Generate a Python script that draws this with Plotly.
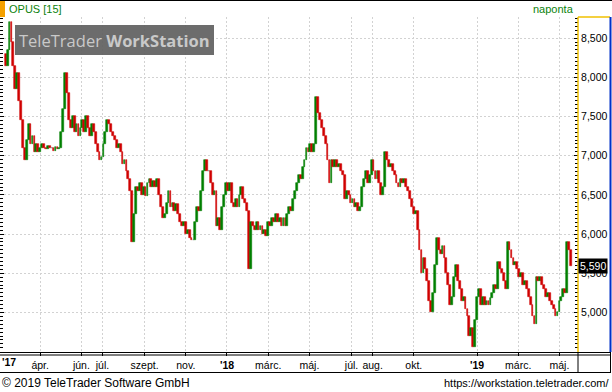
import numpy as np
import pandas as pd
import plotly.graph_objects as go

# ---------------- data ----------------
start_date = "2017-02-10"
bar_step = 2            # trading days per bar
first_open = 8300

close = [
    8150, 8350, 8700, 8450, 8150, 7850, 8050, 7700, 7450, 7100,
    6950, 7200, 7400, 7150, 7250, 7050, 7150, 7050, 7100, 7150,
    7100, 7080, 7120, 7100, 7100, 7060, 7110, 7090, 7100, 7300,
    7600, 8050, 7800, 7450, 7350, 7500, 7300, 7400, 7250, 7350,
    7450, 7300, 7500, 7350, 7250, 7400, 7300, 7150, 7050, 6950,
    6980, 7150, 7300, 7450, 7400, 7300, 7250, 7200, 7100, 7150,
    7050, 6900, 6950, 6800, 6700, 6550, 5900, 6250, 6600, 6550,
    6650, 6500, 6600, 6480, 6650, 6700, 6600, 6680, 6600, 6700,
    6500, 6350, 6200, 6250, 6400, 6550, 6350, 6400, 6300, 6380,
    6250, 6150, 6100, 6150, 6000, 6050, 5950, 5920, 5920, 6150,
    6350, 6300, 6550, 6800, 6950, 6800, 6800, 6650, 6500, 6550,
    6100, 6200, 6050, 6350, 6500, 6650, 6550, 6650, 6400, 6350,
    6450, 6350, 6500, 6600, 6450, 6400, 6300, 5550, 6150, 6100,
    6050, 6150, 6050, 6100, 6000, 6050, 5980, 6150, 6100, 6200,
    6150, 6250, 6150, 6200, 6100, 6200, 6100, 6250, 6350, 6300,
    6450, 6550, 6650, 6750, 6700, 6850, 6950, 7100, 7050, 7150,
    7050, 7150, 7750, 7550, 7450, 7350, 7250, 7150, 6950, 6650,
    6950, 6850, 6950, 6850, 6900, 6800, 6750, 6450, 6550, 6500,
    6400, 6450, 6350, 6400, 6300, 6350, 6600, 6700, 6800, 6650,
    6750, 6950, 6800, 6700, 6800, 6650, 6500, 6600, 7050, 6950,
    6850, 6900, 6800, 6750, 6650, 6600, 6700, 6650, 6700, 6600,
    6550, 6450, 6350, 6250, 6300, 6050, 5800, 5500, 5700, 5550,
    5400, 5150, 5000, 5250, 5600, 5950, 5800, 5750, 5850, 5700,
    5500, 5350, 5100, 5200, 5450, 5600, 5400, 5300, 5150, 5200,
    5050, 4950, 4700, 4800, 4560, 4900, 5200, 5300, 5100, 5200,
    5100, 5150, 5100, 5180, 5250, 5350, 5300, 5650, 5550, 5500,
    5400, 5300, 5900, 5800, 5700, 5600, 5650, 5550, 5450, 5500,
    5350, 5400, 5300, 5200, 5100, 4950, 4850, 5450, 5400, 5450,
    5350, 5300, 5200, 5250, 5150, 5100, 5050, 4950, 5000, 5150,
    5200, 5300, 5250, 5900, 5800, 5590,
]

tick_months = ["2017-04", "2017-06", "2017-07", "2017-09", "2017-11",
               "2018-01", "2018-03", "2018-05", "2018-07", "2018-08", "2018-10",
               "2019-01", "2019-03", "2019-05"]
tick_labels = ["ápr.", "jún.", "júl.", "szept.", "nov.",
               "<b>'18</b>", "márc.", "máj.", "júl.", "aug.", "okt.",
               "<b>'19</b>", "márc.", "máj."]
y_ticks = [5000, 5500, 6000, 6500, 7000, 7500, 8000, 8500]
y_half_lines = [4750, 5250, 5750, 6250, 6750, 7250, 7750, 8250, 8750]

# ---------------- derived ----------------
n = len(close)
dates = pd.bdate_range(start_date, periods=n * bar_step)
xpos = np.arange(n) * bar_step
opens = [first_open] + close[:-1]
base = [min(o, c) for o, c in zip(opens, close)]
height = [abs(c - o) for o, c in zip(opens, close)]
colors = ["#008000" if c > o else ("#d00000" if c < o else "#808080")
          for o, c in zip(opens, close)]
tickvals = [int(dates.searchsorted(pd.Timestamp(m + "-01"))) for m in tick_months]

FONT = "Liberation Sans, Arial, sans-serif"

fig = go.Figure()
fig.add_trace(go.Bar(
    x=xpos, y=height, base=base,
    marker=dict(color=colors, line=dict(color=colors, width=0.6)),
    width=1.85, showlegend=False, hoverinfo="skip",
))

y_range = [4496, 8769]
x_range = [-5.95, 597.4]

fig.update_layout(
    width=612, height=392,
    margin=dict(l=0, r=34, t=17, b=40),
    paper_bgcolor="white", plot_bgcolor="white",
    bargap=0,
    font=dict(family=FONT, size=11, color="black"),
    xaxis=dict(
        range=x_range, tickmode="array", tickvals=tickvals, ticktext=tick_labels,
        showgrid=True, gridcolor="#d2d2d2", griddash="2px,2px", gridwidth=1,
        ticks="outside", ticklen=3, tickcolor="black",
        tickfont=dict(size=10.5, family=FONT, color="black"),
        showline=False, zeroline=False, fixedrange=True,
    ),
    yaxis=dict(
        range=y_range, side="right", tickmode="array", tickvals=y_ticks,
        ticktext=[f"{v:,}" for v in y_ticks],
        showgrid=True, gridcolor="#d2d2d2", griddash="2px,2px", gridwidth=1,
        ticks="inside", ticklen=4, tickcolor="black",
        minor=dict(dtick=50, tick0=0, ticks="inside", ticklen=3, tickcolor="black", showgrid=False),
        showline=True, linecolor="rgba(0,0,0,0)", mirror="ticks",
        tickfont=dict(size=10.5, family=FONT, color="black"),
        zeroline=False, fixedrange=True,
    ),
    yaxis2=dict(
        range=y_range, overlaying="y", side="right", tickmode="array",
        tickvals=y_half_lines, showticklabels=False, ticks="",
        showgrid=True, gridcolor="#d2d2d2", griddash="4px,11px", gridwidth=1,
        zeroline=False, showline=False, fixedrange=True,
    ),
)

# frame / decoration (paper coords: x px/578, y (352-py)/335)
def px_x(px):
    return px / 578.0

def px_y(py):
    return (352.0 - py) / 335.0

shapes = [
    dict(type="rect", xref="paper", yref="paper", x0=0, x1=px_x(5), y0=px_y(17), y1=px_y(0),
         fillcolor="#f5a000", line=dict(width=0), layer="above"),
    dict(type="line", xref="paper", yref="paper", x0=0, x1=px_x(612), y0=px_y(0.5), y1=px_y(0.5),
         line=dict(color="black", width=1)),
    dict(type="line", xref="paper", yref="paper", x0=1, x1=1, y0=px_y(352), y1=px_y(17),
         line=dict(color="#f0c000", width=1.5)),
    dict(type="line", xref="paper", yref="paper", x0=1, x1=px_x(610), y0=px_y(17), y1=px_y(17),
         line=dict(color="#f0c000", width=1.5)),
    dict(type="line", xref="paper", yref="paper", x0=px_x(610.5), x1=px_x(610.5), y0=px_y(352), y1=px_y(17),
         line=dict(color="#0030c8", width=2)),
    dict(type="line", xref="paper", yref="paper", x0=0, x1=px_x(611), y0=px_y(352.5), y1=px_y(352.5),
         line=dict(color="black", width=1)),
    dict(type="line", xref="paper", yref="paper", x0=0, x1=px_x(611), y0=px_y(355), y1=px_y(355),
         line=dict(color="black", width=1)),
    dict(type="line", xref="paper", yref="paper", x0=0, x1=px_x(611), y0=px_y(372.5), y1=px_y(372.5),
         line=dict(color="black", width=1)),
    dict(type="line", xref="paper", yref="paper", x0=1, x1=1, y0=px_y(352), y1=px_y(372.5),
         line=dict(color="black", width=1)),
    dict(type="line", xref="paper", yref="paper", x0=px_x(610.5), x1=px_x(610.5), y0=px_y(352), y1=px_y(372.5),
         line=dict(color="black", width=1)),
    dict(type="rect", xref="paper", yref="paper", x0=px_x(15), x1=px_x(214), y0=px_y(55), y1=px_y(25),
         fillcolor="rgba(95,95,95,0.92)", line=dict(width=0), layer="above"),
]
fig.update_layout(shapes=shapes)

annotations = [
    dict(xref="paper", yref="paper", x=px_x(7), y=px_y(9), xanchor="left", yanchor="middle",
         text="OPUS [15]", showarrow=False, font=dict(size=11, color="#0b820b", family=FONT)),
    dict(xref="paper", yref="paper", x=px_x(576), y=px_y(9), xanchor="right", yanchor="middle",
         text="naponta", showarrow=False, font=dict(size=11, color="#0b820b", family=FONT)),
    dict(xref="paper", yref="paper", x=px_x(114.5), y=px_y(40), xanchor="center", yanchor="middle",
         text="TeleTrader <b>WorkStation</b>", showarrow=False,
         font=dict(size=16.5, color="#c9c9c9", family="Open Sans, sans-serif")),
    dict(xref="paper", yref="paper", x=0, y=px_y(362), xanchor="left", yanchor="middle",
         text="<b>'17</b>", showarrow=False, font=dict(size=10.5, color="black", family=FONT)),
    dict(xref="paper", yref="paper", x=0, y=px_y(383), xanchor="left", yanchor="middle",
         text="© 2019 TeleTrader Software GmbH", showarrow=False,
         font=dict(size=12, color="black", family=FONT)),
    dict(xref="paper", yref="paper", x=px_x(611), y=px_y(383), xanchor="right", yanchor="middle",
         text="https://workstation.teletrader.com/", showarrow=False,
         font=dict(size=11, color="black", family=FONT)),
    dict(xref="paper", yref="y", x=1, y=close[-1], xanchor="left", yanchor="middle",
         text=f"{close[-1]:,}", showarrow=False, bgcolor="black", borderpad=1,
         font=dict(size=10.5, color="white", family=FONT)),
]
fig.update_layout(annotations=annotations)

fig.write_html("out.html")
